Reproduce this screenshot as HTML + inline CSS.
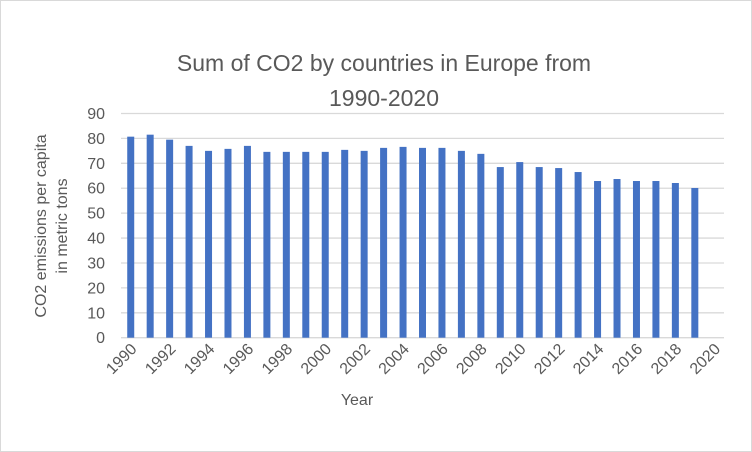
<!DOCTYPE html>
<html><head><meta charset="utf-8"><style>
body{margin:0;background:#fff;}
svg{display:block;font-family:"Liberation Sans",sans-serif;}
</style></head><body>
<svg width="752" height="452" viewBox="0 0 752 452">
<rect x="0.5" y="0.5" width="751" height="451" fill="#fff" stroke="#d9d9d9"/>
<text x="384" y="71" text-anchor="middle" font-size="23" fill="#595959">Sum of CO2 by countries in Europe from</text>
<text x="384" y="106" text-anchor="middle" font-size="23" fill="#595959">1990-2020</text>
<g id="grid"></g>
<g id="yticks"></g>
<g id="bars"></g>
<g id="xticks"></g>
<text transform="translate(46,226) rotate(-90)" text-anchor="middle" font-size="16" fill="#595959"><tspan x="0" y="0">CO2 emissions per capita</tspan><tspan x="0" y="21">in metric tons</tspan></text>
<text x="357" y="405" text-anchor="middle" font-size="16" fill="#595959">Year</text>
</svg>
<script>
const categories=[1990,1991,1992,1993,1994,1995,1996,1997,1998,1999,2000,2001,2002,2003,2004,2005,2006,2007,2008,2009,2010,2011,2012,2013,2014,2015,2016,2017,2018,2019,2020];
const values=[80.7,81.5,79.5,77,75,75.8,77,74.6,74.6,74.6,74.6,75.4,75,76.2,76.6,76.2,76.2,75,73.8,68.5,70.5,68.5,68.1,66.5,62.9,63.7,62.9,62.9,62.1,60.1,null];
const yTicks=[0,10,20,30,40,50,60,70,80,90];
const NS="http://www.w3.org/2000/svg";
const x0=121,x1=724,y0=337.7,y1=113.5,ymax=90;
const band=(x1-x0)/categories.length;
const y=v=>y0-(v/ymax)*(y0-y1);
const xc=i=>x0+band*(i+0.5);
function mk(tag,attrs,parent){const e=document.createElementNS(NS,tag);for(const k in attrs)e.setAttribute(k,attrs[k]);parent.appendChild(e);return e;}
const grid=document.getElementById('grid'),yt=document.getElementById('yticks'),bars=document.getElementById('bars'),xt=document.getElementById('xticks');
yTicks.forEach(t=>{
  const l=mk('line',{x1:x0,x2:x1,y1:y(t),y2:y(t),stroke:'#d9d9d9','stroke-width':1.3},grid);
  
  
  const tx=mk('text',{x:105,y:y(t)+5.5,'text-anchor':'end','font-size':16,fill:'#595959'},yt);
  tx.textContent=t;
  
  
});
values.forEach((v,i)=>{
  if(v==null)return;
  const r=mk('rect',{x:xc(i)-3.5,y:y(v),width:7,height:y0-y(v),fill:'#4472c4'},bars);
  
  
});
categories.forEach((c,i)=>{
  if(i%2)return;
  const px=xc(i)+7,py=350;
  const tx=mk('text',{x:px,y:py,'text-anchor':'end','font-size':16,fill:'#595959',transform:`rotate(-45 ${px} ${py})`},xt);
  tx.textContent=c;
  
  
});
</script>
</body></html>
